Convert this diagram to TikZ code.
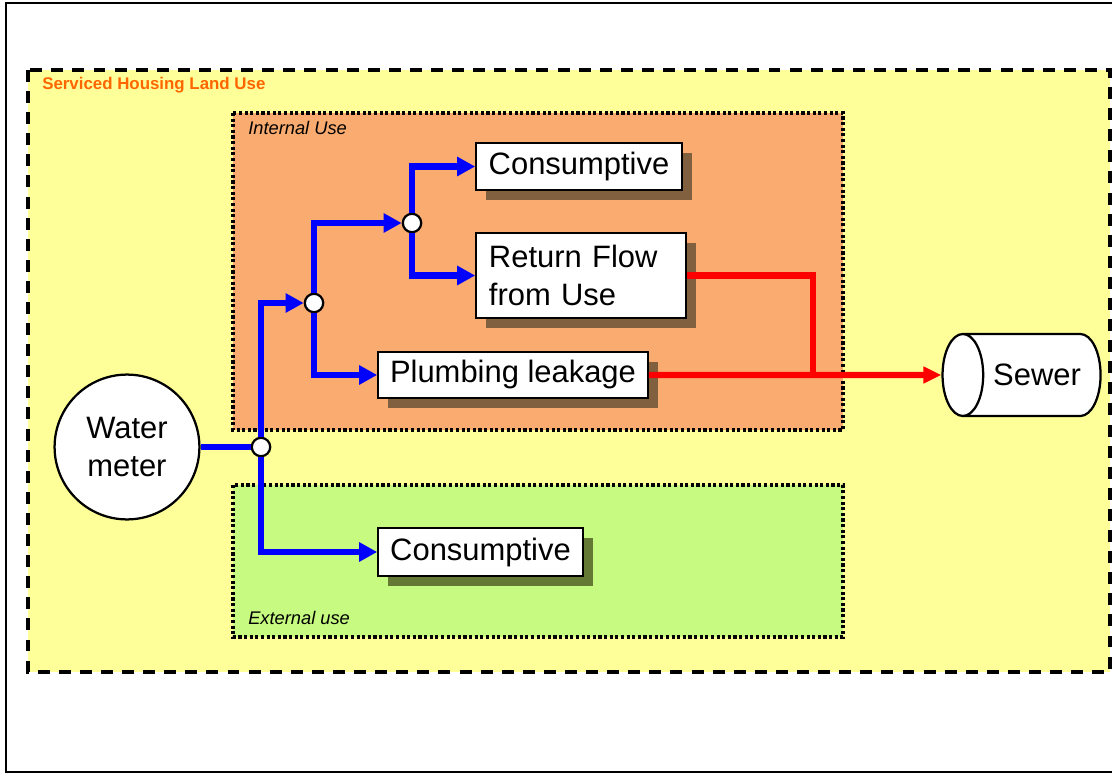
\documentclass[tikz,border=0pt]{standalone}
\usepackage{fontspec}
\setmainfont{Liberation Sans}
\usepackage{tikz}
\usetikzlibrary{arrows.meta, shapes.geometric, shadows}
\definecolor{housing}{RGB}{255,255,153}
\definecolor{inuse}{RGB}{250,172,112}
\definecolor{outuse}{RGB}{198,250,128}
\definecolor{lblorange}{RGB}{255,102,0}
\definecolor{pipeblue}{RGB}{0,0,255}
\definecolor{drainred}{RGB}{255,0,0}
\definecolor{shadeIn}{RGB}{128,96,62}
\definecolor{shadeOut}{RGB}{100,122,52}
\tikzstyle{pipe} = [line width=4.6pt, color=pipeblue]
\tikzstyle{flow} = [pipe, -{Triangle[length=4.5mm,width=4.6mm]}]
\tikzstyle{drain} = [line width=4.6pt, color=drainred]
\tikzstyle{junction} = [circle, draw=black, fill=white, line width=1.6pt, minimum size=0.46cm, inner sep=0pt]
\tikzstyle{usebox} = [rectangle, draw=black, fill=white, line width=1.1pt, inner sep=0pt, font=\fontsize{22}{27}\selectfont]
\tikzset{
	shadowIn/.style = {drop shadow={shadow xshift=0.25cm, shadow yshift=-0.25cm, fill=shadeIn, opacity=1}},
	shadowOut/.style = {drop shadow={shadow xshift=0.25cm, shadow yshift=-0.25cm, fill=shadeOut, opacity=1}},
	zone/.style = {draw=black, line width=2.4pt, dash pattern=on 2.2pt off 1.8pt},
	zonelabel/.style = {anchor=north west, inner sep=0pt, font=\fontsize{13}{15}\selectfont\itshape}
}

\begin{document}
\begin{tikzpicture}[x=0.025cm, y=-0.025cm]
\useasboundingbox (0,0) rectangle (1112,774);
%----------------------------------------------------------------------------
% Frame and land use zones
\draw [line width=0.8pt] (6,3) rectangle (1130,772);
\draw [fill=housing, line width=2.6pt, dash pattern=on 8.5pt off 6.5pt] (28,70) rectangle (1110,672);
\node (housingLbl) [anchor=west, inner sep=0pt, text=lblorange, font=\bfseries\fontsize{12}{14}\selectfont] at (42,85) {Serviced Housing Land Use};

\draw [zone, fill=inuse] (233,113) rectangle (843,430);
\node (internalLbl) [zonelabel] at (248,121) {Internal Use};
\draw [zone, fill=outuse] (233,485) rectangle (843,637);
\node (externalLbl) [zonelabel] at (248,611) {External use};

%----------------------------------------------------------------------------
% Placement of nodes
\node (waterMeter) [circle, draw, fill=white, line width=1.6pt, minimum size=3.62cm, align=center, font=\fontsize{22}{27}\selectfont] at (127,447) {Water\\meter};
\node (j1) [junction] at (261,447) {};
\node (j2) [junction] at (314,303) {};
\node (j3) [junction] at (412,223) {};

\node (consInt) [usebox, shadowIn, minimum width=5.15cm, minimum height=1.175cm] at (579,166.5) {Consumptive};
\node (returnFlow) [usebox, shadowIn, minimum width=5.25cm, minimum height=2.125cm, text width=4.6cm, align=left] at (581,275.5) {Return Flow\\from Use};
\node (leakage) [usebox, shadowIn, minimum width=6.75cm, minimum height=1.15cm] at (513,375) {Plumbing leakage};
\node (consExt) [usebox, shadowOut, minimum width=5.125cm, minimum height=1.2cm] at (480.5,552) {Consumptive};

\node (sewer) [cylinder, shape border rotate=180, aspect=1.3, draw, fill=white, line width=1.6pt, minimum height=3.95cm, minimum width=2.05cm, font=\fontsize{22}{27}\selectfont] at (1037,375) {Sewer};
\coordinate (drainJoin) at (813,375);

%----------------------------------------------------------------------------
% Lines
\draw [pipe] (waterMeter) -- (j1);
\draw [flow] (j1) |- (j2);
\draw [flow] (j1) |- (consExt);

\draw [flow] (j2) |- (j3);
\draw [flow] (j2) |- (leakage);

\draw [flow] (j3) |- (consInt);
\draw [flow] (j3) |- (returnFlow);

\draw [drain] (returnFlow) -| (drainJoin);
\draw [drain, -{Triangle[length=4.5mm,width=4mm]}] (leakage) -- (sewer);

\end{tikzpicture}
\end{document}
